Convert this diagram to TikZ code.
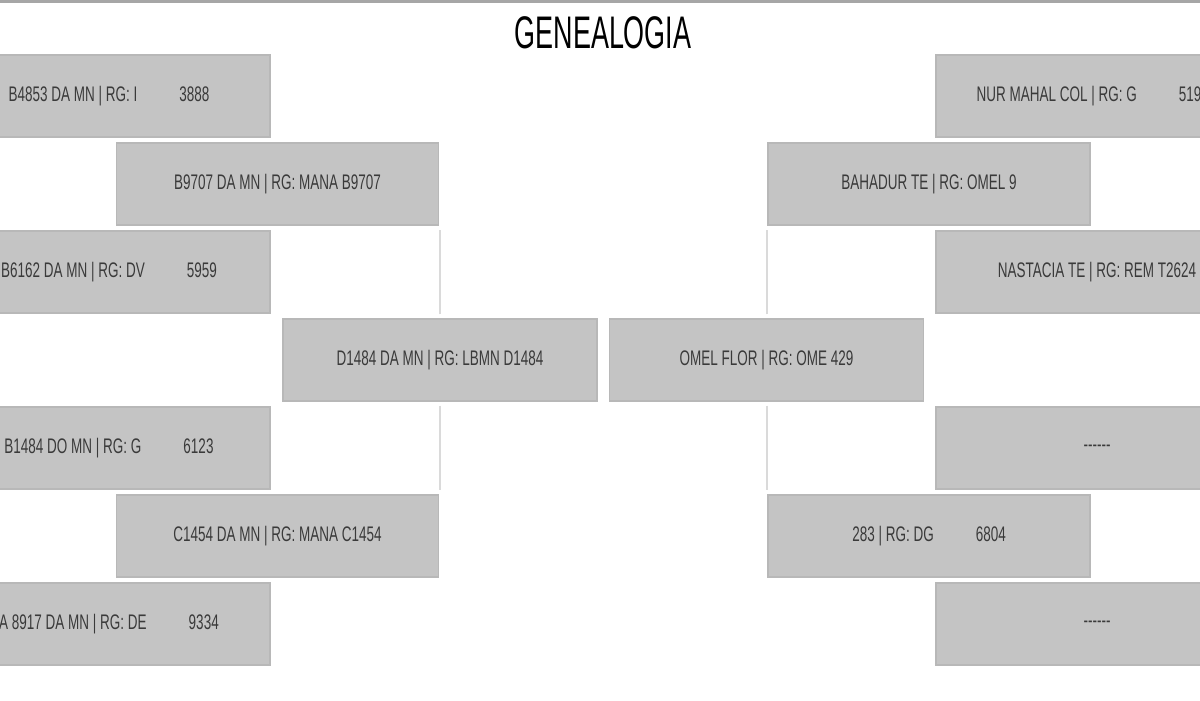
\documentclass[tikz,border=0pt]{standalone}
\usepackage{fontspec}
\setmainfont{Liberation Sans}
\newfontfamily\boxfont[FakeStretch=0.64]{Liberation Sans}
\newfontfamily\titlefont[FakeStretch=0.59]{Liberation Sans}
\definecolor{boxgray}{HTML}{C4C4C4}
\definecolor{edgegray}{HTML}{B8B8B8}
\definecolor{textgray}{HTML}{3A3A3A}
\definecolor{linegray}{HTML}{DADADA}
\newcommand{\rgnum}[2]{#1\hspace{0.84cm}#2}

\begin{document}
\begin{tikzpicture}[
  ancestor/.style={fill=boxgray,draw=edgegray,line width=0.6pt,minimum width=6.44cm,minimum height=1.64cm,inner sep=0pt,text=textgray,font=\boxfont\fontsize{12}{14}\selectfont},
  mid/.style={ancestor,minimum width=6.28cm},
  link/.style={draw=linegray,line width=0.04cm,shorten >=0.08cm,shorten <=0.08cm}]
 \clip (0,0) rectangle (24,-14);
 \draw[gray!70,line width=0.06cm](0,-0.03)--(24,-0.03);
 \node[font=\titlefont\fontsize{26}{30}\selectfont,anchor=base](title) at (12.06,-0.96){GENEALOGIA};
 % left side
 \node[ancestor](b4853) at (2.18,-1.92){\rgnum{B4853 DA MN | RG: I}{3888}};
 \node[ancestor](b9707) at (5.55,-3.68){B9707 DA MN | RG: MANA B9707};
 \node[ancestor](b6162) at (2.18,-5.44){\rgnum{B6162 DA MN | RG: DV}{5959}};
 \node[mid](d1484) at (8.8,-7.2){D1484 DA MN | RG: LBMN D1484};
 \node[ancestor](b1484) at (2.18,-8.96){\rgnum{B1484 DO MN | RG: G}{6123}};
 \node[ancestor](c1454) at (5.55,-10.72){C1454 DA MN | RG: MANA C1454};
 \node[ancestor](a8917) at (2.18,-12.48){\rgnum{A 8917 DA MN | RG: DE}{9334}};
 % right side
 \node[ancestor](nurmahal) at (21.94,-1.92){\rgnum{NUR MAHAL COL | RG: G}{519}\kern0.32cm};
 \node[ancestor](bahadur) at (18.58,-3.68){BAHADUR TE | RG: OMEL 9};
 \node[ancestor](nastacia) at (21.94,-5.44){NASTACIA TE | RG: REM T2624};
 \node[mid](omel) at (15.33,-7.2){OMEL FLOR | RG: OME 429};
 \node[ancestor](blank1) at (21.94,-8.96){-{}-{}-{}-{}-{}-};
 \node[ancestor](n283) at (18.58,-10.72){\rgnum{283 | RG: DG}{6804}};
 \node[ancestor](blank2) at (21.94,-12.48){-{}-{}-{}-{}-{}-};
 \draw[link](d1484.north)--(d1484.north |- b9707.south);
 \draw[link](d1484.south)--(d1484.south |- c1454.north);
 \draw[link](omel.north)--(omel.north |- bahadur.south);
 \draw[link](omel.south)--(omel.south |- n283.north);
\end{tikzpicture}
\end{document}
